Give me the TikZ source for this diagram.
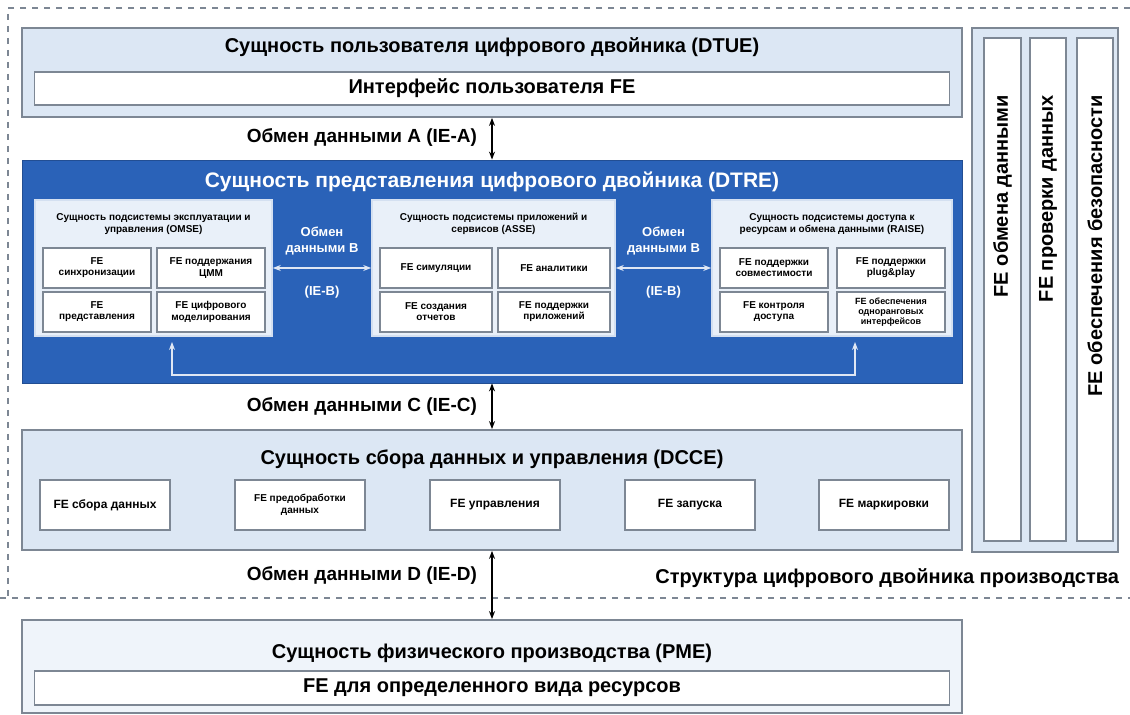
\documentclass[tikz,border=0pt]{standalone}
\usepackage{fontspec}
\setmainfont{Liberation Sans}
\usetikzlibrary{arrows.meta,fit}

\definecolor{paleblue}{RGB}{220,231,244}
\definecolor{subblue}{RGB}{233,240,249}
\definecolor{deepblue}{RGB}{42,98,184}
\definecolor{framegray}{RGB}{125,135,148}

\tikzset{
  entity/.style={draw=framegray, fill=paleblue, line width=0.9pt, inner sep=0pt},
  subent/.style={draw=white!80!deepblue, fill=subblue, line width=0.8pt, inner sep=0pt},
  fe/.style={draw=framegray, fill=white, line width=0.7pt, inner sep=1pt, align=center,
    font=\bfseries\fontsize{5}{5.6}\selectfont, minimum width=54pt, minimum height=20pt},
  dfe/.style={fe, font=\bfseries\fontsize{6}{6.8}\selectfont, minimum width=65pt, minimum height=25pt},
  head/.style={font=\bfseries\fontsize{10}{11.5}\selectfont},
  subhead/.style={font=\bfseries\fontsize{5}{5.8}\selectfont, align=center},
  iftext/.style={font=\bfseries\fontsize{9.5}{10.5}\selectfont, anchor=east},
  btext/.style={font=\bfseries\fontsize{6.5}{7.6}\selectfont, text=white, align=center},
  link/.style={{Stealth[length=4pt,width=3pt]}-{Stealth[length=4pt,width=3pt]}, line width=0.6pt},
  blink/.style={link, draw=white!85!deepblue}
}

\begin{document}
\begin{tikzpicture}[x=0.5pt,y=-0.5pt]
  \useasboundingbox (0,0) rectangle (1130,715);
  % frame of the manufacturing twin
  \draw[framegray, dashed, line width=0.7pt] (1130,8) -- (8,8) -- (8,598) (0,598) -- (1130,598);
  \node[head, anchor=east] (frame) at (1126,578) {Структура цифрового двойника производства};

  % user entity
  \node[entity, fit={(22,28) (962,117)}] (dtue) {};
  \node[head] (dtuet) at (492,47) {Сущность пользователя цифрового двойника (DTUE)};
  \node[entity, fill=white, minimum width=457.5pt, minimum height=16.5pt, head] (uife) at (492,88.5) {Интерфейс пользователя FE};

  % representation entity
  \node[fit={(22,160) (962,383)}, fill=deepblue, draw=deepblue!80!black, inner sep=0pt] (dtre) {};
  \node[head, text=white, font=\bfseries\fontsize{10.5}{12}\selectfont] (dtret) at (492,182) {Сущность представления цифрового двойника (DTRE)};

  \node[subent, fit={(35,200) (272,336)}] (omse) {};
  \node[subhead] (omset) at (153.5,224) {Сущность подсистемы эксплуатации и\\управления (OMSE)};
  \node[fe] (om1) at (97,268) {FE\\синхронизации};
  \node[fe] (om2) at (211,268) {FE поддержания\\ЦММ};
  \node[fe] (om3) at (97,312) {FE\\представления};
  \node[fe] (om4) at (211,312) {FE цифрового\\моделирования};

  \node[subent, fit={(372,200) (615,336)}] (asse) {};
  \node[subhead] (asset) at (493.5,224) {Сущность подсистемы приложений и\\сервисов (ASSE)};
  \node[fe, minimum width=56pt] (as1) at (436,268) {FE симуляции};
  \node[fe, minimum width=56pt] (as2) at (554,268) {FE аналитики};
  \node[fe, minimum width=56pt] (as3) at (436,312) {FE создания\\отчетов};
  \node[fe, minimum width=56pt] (as4) at (554,312) {FE поддержки\\приложений};

  \node[subent, fit={(712,200) (952,336)}] (rai) {};
  \node[subhead] (rait) at (832,224) {Сущность подсистемы доступа к\\ресурсам и обмена данными (RAISE)};
  \node[fe] (ra1) at (774,268) {FE поддержки\\совместимости};
  \node[fe] (ra2) at (891,268) {FE поддержки\\plug\&play};
  \node[fe] (ra3) at (774,312) {FE контроля\\доступа};
  \node[fe, font=\bfseries\fontsize{4.5}{5}\selectfont] (ra4) at (891,312) {FE обеспечения\\одноранговых\\интерфейсов};

  % exchange B inside DTRE
  \draw[blink] (omse.east) -- (asse.west);
  \draw[blink] (asse.east) -- (rai.west);
  \node[btext] (ieb1) at (322,241) {Обмен\\данными B};
  \node[btext] (ieb1b) at (322,292) {(IE-B)};
  \node[btext] (ieb2) at (663.5,241) {Обмен\\данными B};
  \node[btext] (ieb2b) at (663.5,292) {(IE-B)};
  \coordinate (lp1) at (172,342);
  \coordinate (lp2) at (855,342);
  \draw[blink] (lp1) -- ++(0,33) -| (lp2);

  % collection and control entity
  \node[entity, fit={(22,430) (962,550)}] (dcce) {};
  \node[head] (dccet) at (492,459) {Сущность сбора данных и управления (DCCE)};
  \node[dfe] (dc1) at (105,505) {FE сбора данных};
  \node[dfe, font=\bfseries\fontsize{5}{5.8}\selectfont] (dc2) at (300,505) {FE предобработки\\данных};
  \node[dfe] (dc3) at (495,505) {FE управления};
  \node[dfe] (dc4) at (690,505) {FE запуска};
  \node[dfe] (dc5) at (884,505) {FE маркировки};

  % physical entity
  \node[entity, fill=white!55!paleblue, fit={(22,620) (962,713)}] (pme) {};
  \node[head] (pmet) at (492,653) {Сущность физического производства (PME)};
  \node[entity, fill=white, minimum width=457.5pt, minimum height=17pt, head] (rfe) at (492,688) {FE для определенного вида ресурсов};

  % cross-system entity
  \node[entity, fit={(972,28) (1118,552)}] (cse) {};
  \node[entity, fill=white, fit={(984,38) (1021,541)}] (cs1) {};
  \node[entity, fill=white, fit={(1030,38) (1066,541)}] (cs2) {};
  \node[entity, fill=white, fit={(1077,38) (1113,541)}] (cs3) {};
  \node[head, rotate=90, anchor=east] (cs1t) at (cs1.north |- 0,88) {FE обмена данными};
  \node[head, rotate=90, anchor=east] (cs2t) at (cs2.north |- 0,88) {FE проверки данных};
  \node[head, rotate=90, anchor=east] (cs3t) at (cs3.north |- 0,88) {FE обеспечения безопасности};

  % exchanges between entities
  \draw[link] (dtue.south) -- (dtre.north);
  \node[iftext] (iea) at (484,138) {Обмен данными A (IE-A)};
  \draw[link] (dtre.south) -- (dcce.north);
  \node[iftext] (iec) at (484,407) {Обмен данными C (IE-C)};
  \draw[link] (dcce.south) -- (pme.north);
  \node[iftext] (ied) at (484,576) {Обмен данными D (IE-D)};
\end{tikzpicture}
\end{document}
